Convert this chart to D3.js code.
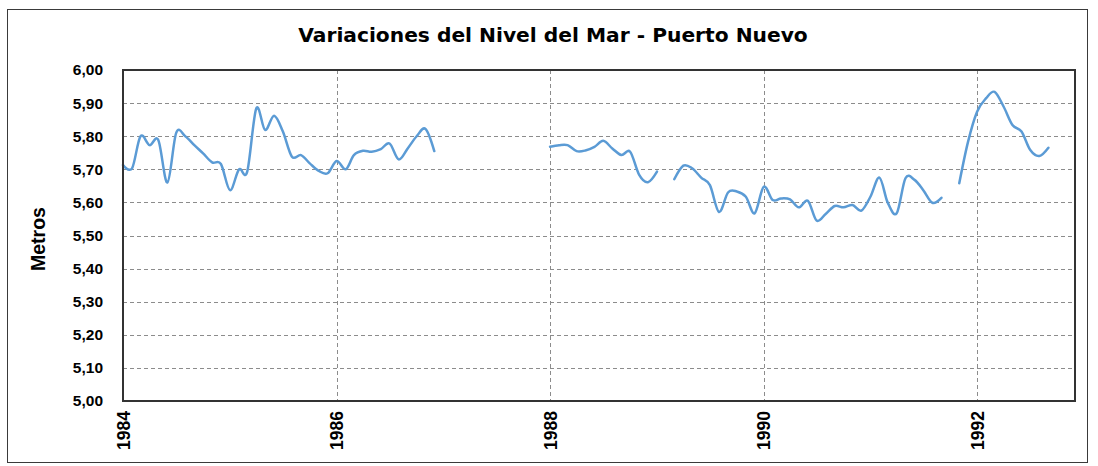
<!DOCTYPE html>
<html>
<head>
<meta charset="utf-8">
<script src="https://cdn.jsdelivr.net/npm/d3@7"></script>
<style>
  html, body { margin: 0; padding: 0; background: #ffffff; }
  svg { display: block; }
</style>
</head>
<body>
<script>
// ---- Data (monthly mean sea level, metres) ----
const chartTitle = "Variaciones del Nivel del Mar - Puerto Nuevo";
const yAxisTitle = "Metros";
const yTickValues = [5.0, 5.1, 5.2, 5.3, 5.4, 5.5, 5.6, 5.7, 5.8, 5.9, 6.0];
const xTickYears = [1984, 1986, 1988, 1990, 1992];
const xDomain = ["1984-01", "1992-12"];

const seg1Start = "1984-01";
const seg1Values = [5.713, 5.703, 5.800, 5.773, 5.788, 5.660, 5.810, 5.800, 5.773, 5.748, 5.721, 5.716,
                    5.637, 5.700, 5.693, 5.884, 5.819, 5.862, 5.814, 5.738, 5.743, 5.718, 5.695, 5.688,
                    5.725, 5.700, 5.743, 5.756, 5.753, 5.761, 5.778, 5.730, 5.763, 5.799, 5.822, 5.755];
const seg2Start = "1988-01";
const seg2Values = [5.768, 5.773, 5.773, 5.755, 5.757, 5.768, 5.786, 5.763, 5.743, 5.753, 5.683, 5.661, 5.693];
const seg3Start = "1989-03";
const seg3Values = [5.670, 5.711, 5.703, 5.675, 5.652, 5.571, 5.630, 5.633, 5.617, 5.567, 5.647, 5.607,
                    5.612, 5.609, 5.585, 5.605, 5.545, 5.565, 5.589, 5.585, 5.592, 5.575, 5.617, 5.675,
                    5.600, 5.567, 5.673, 5.668, 5.637, 5.599, 5.614];
const seg4Start = "1991-11";
const seg4Values = [5.658, 5.783, 5.874, 5.915, 5.934, 5.889, 5.834, 5.814, 5.758, 5.740, 5.765];

const segments = [
  [seg1Start, seg1Values], [seg2Start, seg2Values],
  [seg3Start, seg3Values], [seg4Start, seg4Values]
];

// ---- Layout ----
const W = 1098, H = 466;
const plot = { left: 123, right: 1075, top: 70, bottom: 401 };

const parseMonth = d3.timeParse("%Y-%m");
const x = d3.scaleTime()
  .domain(xDomain.map(parseMonth))
  .range([plot.left, plot.right]);
const y = d3.scaleLinear().domain([5, 6]).range([plot.bottom, plot.top]);

const svg = d3.select("body").append("svg").attr("width", W).attr("height", H);

// outer chart border
svg.append("rect")
  .attr("x", 7.5).attr("y", 9.5).attr("width", 1080).attr("height", 453)
  .attr("fill", "#fff").attr("stroke", "#3a3a3a").attr("stroke-width", 1);

// horizontal grid
const grid = svg.append("g").attr("stroke", "#8c8c8c").attr("stroke-width", 1)
  .attr("stroke-dasharray", "4,3").attr("fill", "none");
grid.selectAll("line.h").data(yTickValues.filter(v => v > 5 && v < 6)).join("line")
  .attr("class", "h")
  .attr("x1", plot.left).attr("x2", plot.right)
  .attr("y1", d => Math.round(y(d)) + 0.5).attr("y2", d => Math.round(y(d)) + 0.5);
grid.selectAll("line.v").data(xTickYears.filter(yr => yr > 1984)).join("line")
  .attr("class", "v")
  .attr("x1", d => Math.round(x(new Date(d, 0, 1))) + 0.5)
  .attr("x2", d => Math.round(x(new Date(d, 0, 1))) + 0.5)
  .attr("y1", plot.top).attr("y2", plot.bottom);

// series line
const line = d3.line()
  .x(d => x(d.date)).y(d => y(d.value))
  .curve(d3.curveCardinal.tension(0));

segments.forEach(([start, values]) => {
  const s = parseMonth(start);
  const pts = values.map((v, i) => ({ date: d3.timeMonth.offset(s, i), value: v }));
  svg.append("path").datum(pts)
    .attr("d", line)
    .attr("fill", "none")
    .attr("stroke", "#5b9bd5")
    .attr("stroke-width", 2.5)
    .attr("stroke-linejoin", "round")
    .attr("stroke-linecap", "round");
});

// plot area border
svg.append("rect")
  .attr("x", plot.left).attr("y", plot.top)
  .attr("width", plot.right - plot.left).attr("height", plot.bottom - plot.top)
  .attr("fill", "none").attr("stroke", "#333").attr("stroke-width", 2);

// y axis labels
const fmt = d3.format(".2f");
const yAxis = d3.axisLeft(y).tickValues(yTickValues).tickSize(0).tickPadding(20)
  .tickFormat(d => fmt(d).replace(".", ","));
const gy = svg.append("g").attr("transform", `translate(${plot.left},0)`).call(yAxis);
gy.select(".domain").remove();
gy.selectAll("text")
  .attr("font-family", "'Liberation Sans', Arial, sans-serif")
  .attr("font-weight", "bold").attr("font-size", 15.5).attr("fill", "#000");

// x axis labels (rotated)
const xAxis = d3.axisBottom(x)
  .tickValues(xTickYears.map(yr => new Date(yr, 0, 1)))
  .tickSize(0).tickFormat(d3.timeFormat("%Y"));
const gx = svg.append("g").attr("transform", `translate(0,${plot.bottom})`).call(xAxis);
gx.select(".domain").remove();
gx.selectAll("text")
  .attr("font-family", "'Liberation Sans', Arial, sans-serif")
  .attr("font-weight", "bold").attr("font-size", 17.5).attr("fill", "#000")
  .attr("transform", "rotate(-90)")
  .attr("text-anchor", "end")
  .attr("x", -10).attr("y", 0).attr("dy", "0.35em");

// y axis title
svg.append("text")
  .attr("transform", "translate(38,239) rotate(-90)")
  .attr("text-anchor", "middle").attr("dy", "0.35em")
  .attr("font-family", "'Liberation Sans', Arial, sans-serif")
  .attr("font-weight", "bold").attr("font-size", 19.5).attr("fill", "#000")
  .text(yAxisTitle);

// chart title
const title = svg.append("text")
  .attr("x", 553).attr("y", 42)
  .attr("text-anchor", "middle")
  .attr("font-family", "'DejaVu Sans', sans-serif")
  .attr("font-weight", "bold").attr("font-size", 20).attr("fill", "#000")
  .text(chartTitle);
const tw = title.node().getComputedTextLength();
title.attr("font-size", 20 * 510 / tw);
</script>
</body>
</html>
